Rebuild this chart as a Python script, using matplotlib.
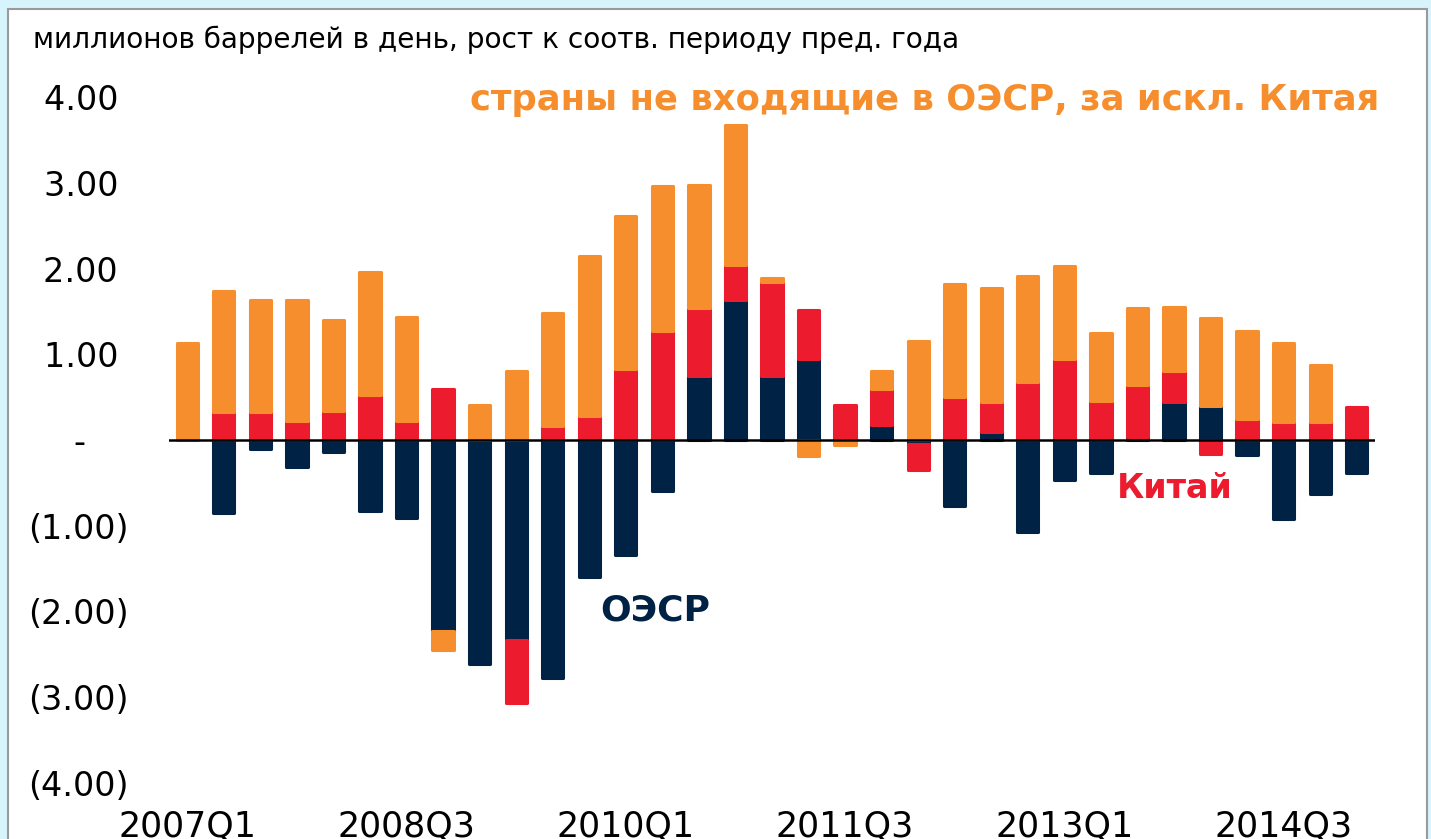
import numpy as np
import matplotlib.pyplot as plt
from matplotlib.patches import Rectangle

# quarters 2007Q1 .. 2015Q1
quarters = [f"{y}Q{q}" for y in range(2007, 2016) for q in range(1, 5)][:33]

# mb/d, y/y growth
oecd = [0.00, -0.85, -0.11, -0.32, -0.14, -0.83, -0.91, -2.23, -2.61, -2.33, -2.78,
        -1.60, -1.34, -0.60, 0.75, 1.63, 0.75, 0.94, 0.00, 0.18, -0.05, -0.77,
        0.09, -1.07, -0.47, -0.39, 0.04, 0.44, 0.40, -0.17, -0.92, -0.63, -0.39]
china = [0.00, 0.33, 0.33, 0.22, 0.34, 0.52, 0.22, 0.60, 0.00, -0.74, 0.16,
         0.28, 0.83, 1.27, 0.79, 0.41, 1.09, 0.58, 0.41, 0.42, -0.30, 0.50,
         0.35, 0.68, 0.95, 0.45, 0.60, 0.36, -0.16, 0.25, 0.21, 0.21, 0.39]
non_oecd_ex_china = [1.13, 1.41, 1.30, 1.41, 1.06, 1.44, 1.21, -0.22, 0.41, 0.81, 1.32,
                     1.87, 1.78, 1.69, 1.43, 1.63, 0.05, -0.19, -0.06, 0.21, 1.15, 1.32,
                     1.33, 1.23, 1.08, 0.80, 0.90, 0.75, 1.02, 1.02, 0.92, 0.66, 0.00]

yticks = [4, 3, 2, 1, 0, -1, -2, -3, -4]
ytick_labels = ["4.00 ", "3.00 ", "2.00 ", "1.00 ", "-    ",
                "(1.00)", "(2.00)", "(3.00)", "(4.00)"]

NAVY = "#002244"
RED = "#EC1C2E"
ORANGE = "#F68E2D"

fig = plt.figure(figsize=(14.31, 8.39), dpi=100)
fig.patch.set_facecolor("#d7f3fc")
fig.patches.append(Rectangle((8 / 1431, -0.05), 1419 / 1431, 1.05 - 9 / 839,
                             transform=fig.transFigure, facecolor="white",
                             edgecolor="#9a9a9a", linewidth=1.5, zorder=-10))

ax = fig.add_axes([169 / 1431, 1 - 783 / 839, (1375 - 169) / 1431, (783 - 97) / 839])
ax.set_facecolor("none")

x = np.arange(len(quarters))
pos_base = np.zeros(len(x))
neg_base = np.zeros(len(x))
for vals, col in [(oecd, NAVY), (china, RED), (non_oecd_ex_china, ORANGE)]:
    v = np.array(vals)
    bottom = np.where(v >= 0, pos_base, neg_base)
    nz = v != 0
    ax.bar(x[nz], v[nz], bottom=bottom[nz], width=0.58, color=col, edgecolor=col,
           linewidth=2.2, joinstyle="round", zorder=2)
    pos_base = pos_base + np.clip(v, 0, None)
    neg_base = neg_base + np.clip(v, None, 0)

ax.axhline(0, color="black", linewidth=1.8, zorder=3)

ax.set_xlim(-0.5, len(x) - 0.5)
ax.set_ylim(-4, 4)
ax.set_yticks(yticks)
ax.set_yticklabels(ytick_labels, fontsize=24)
ax.set_xticks(x[::6])
ax.set_xticklabels(quarters[::6], fontsize=25)
ax.tick_params(axis="y", length=0, pad=29)
ax.tick_params(axis="x", length=0, pad=19)
for s in ax.spines.values():
    s.set_visible(False)

ax.text(7.74, 3.96, "страны не входящие в ОЭСР, за искл. Китая", color=ORANGE,
        fontsize=25.5, fontweight="bold", ha="left", va="center")
ax.text(11.3, -1.99, "ОЭСР", color=NAVY, fontsize=26, fontweight="bold",
        ha="left", va="center")
ax.text(25.44, -0.56, "Китай", color=RED, fontsize=24, fontweight="bold",
        ha="left", va="center")

fig.text(33 / 1431, 1 - 40 / 839, "миллионов баррелей в день, рост к соотв. периоду пред. года",
         fontsize=20.2, ha="left", va="center")

fig.savefig("out.png", dpi=100, facecolor=fig.get_facecolor())
